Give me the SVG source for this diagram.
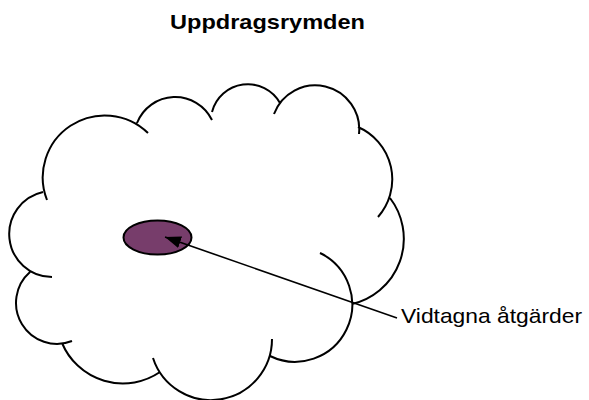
<svg xmlns="http://www.w3.org/2000/svg" width="589" height="400" viewBox="0 0 589 400">
  <defs>
    <style>
      .cloud { fill: none; stroke: #000; stroke-width: 2; stroke-linecap: butt; }
      .title { font-family: "Liberation Sans", Arial, sans-serif; font-weight: bold; font-size: 21px; fill: #000; }
      .label { font-family: "Liberation Sans", Arial, sans-serif; font-size: 21px; fill: #000; }
      .conn { stroke: #000; stroke-width: 1.6; fill: none; }
    </style>
    <marker id="arrow" markerUnits="userSpaceOnUse" markerWidth="17" markerHeight="14" refX="16" refY="7" orient="auto">
      <path d="M0,1 L16,7 L0,13 z" fill="#000"/>
    </marker>
  </defs>
  <rect width="589" height="400" fill="#fff"/>
  <text class="title" x="170" y="28.5" textLength="195" lengthAdjust="spacingAndGlyphs">Uppdragsrymden</text>
  <g id="cloud">
    <path class="cloud" d="M47,200 A62,62 0 0 1 148,133
      M137,123 A41,41 0 0 1 212,120
      M212,112 A37,37 0 0 1 280,103
      M274,114 A44,44 0 0 1 359,134
      M358,127 A57,57 0 0 1 378,217
      M390,198 A67,67 0 0 1 352,304
      M320,253 A57,57 0 0 1 270,356
      M272,339 A61,61 0 0 1 153,358
      M160,372 A66,66 0 0 1 62,343
      M72,341 A41,41 0 0 1 30,272
      M52,277 A43,43 0 0 1 43,192"/>
  </g>
  <g id="action">
    <ellipse cx="157.5" cy="237.5" rx="34" ry="17" fill="#773D6B" stroke="#000" stroke-width="2"/>
  </g>
  <g id="connectors">
    <line class="conn" x1="397" y1="318" x2="165" y2="237" marker-end="url(#arrow)"/>
  </g>
  <g id="label">
    <text class="label" x="401" y="323" textLength="181" lengthAdjust="spacingAndGlyphs">Vidtagna åtgärder</text>
  </g>
</svg>
